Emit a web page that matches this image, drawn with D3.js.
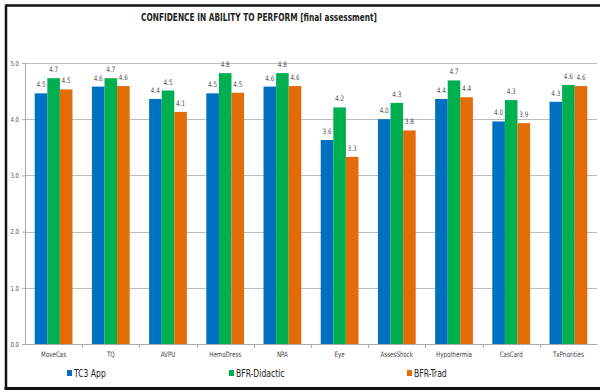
<!DOCTYPE html>
<html>
  <head>
    <meta charset="utf-8" />
    <script src="https://d3js.org/d3.v7.min.js"></script>
    <style>
      body { margin: 0; background: #fff; }
      text { font-family: "DejaVu Sans Condensed", "Liberation Sans", sans-serif; }
    </style>
  </head>
  <body>
    <svg id="chart" width="600" height="392"></svg>
    <script>
      // Datos
      const categories = ["MoveCas", "TQ", "AVPU", "HemoDress", "NPA", "Eye", "AssesShock", "Hypothermia", "CasCard", "TxPriorities"];
      const seriesNames = ["TC3 App", "BFR-Didactic", "BFR-Trad"];
      const tc3App = [4.46, 4.58, 4.36, 4.46, 4.58, 3.63, 4.0, 4.36, 3.96, 4.31];
      const bfrDidactic = [4.73, 4.73, 4.51, 4.82, 4.82, 4.21, 4.29, 4.69, 4.34, 4.61];
      const bfrTrad = [4.53, 4.59, 4.13, 4.47, 4.59, 3.33, 3.8, 4.39, 3.93, 4.59];
      const yTicks = [0, 1, 2, 3, 4, 5];
      const colors = ["#0070c0", "#00b050", "#e36c09"];

      const svg = d3.select("#chart");
      const width = 600;
      const height = 392;
      const margin = { top: 63, right: 3, bottom: 48, left: 25 };

      // Estrecha el texto (la fuente original es más condensada)
      function condense(sel, k) {
        sel.each(function () {
          const w = this.getComputedTextLength();
          d3.select(this).attr("textLength", w * k).attr("lengthAdjust", "spacingAndGlyphs");
        });
      }

      // Marco
      svg.append("line").attr("x1", 6).attr("x2", width).attr("y1", 5.5).attr("y2", 5.5)
        .style("stroke", "#111").style("stroke-width", 2.5);
      svg.append("line").attr("x1", 6).attr("x2", 6).attr("y1", 4.5).attr("y2", 389)
        .style("stroke", "#111").style("stroke-width", 2.5);
      svg.append("line").attr("x1", 4.5).attr("x2", width).attr("y1", 388.5).attr("y2", 388.5)
        .style("stroke", "#111").style("stroke-width", 3);

      // Título
      svg.append("text")
        .attr("x", 259)
        .attr("y", 21)
        .attr("text-anchor", "middle")
        .style("font-size", "11px")
        .style("font-weight", "bold")
        .style("fill", "#222")
        .text("CONFIDENCE IN ABILITY TO PERFORM [final assessment]")
        .call((s) => s.attr("textLength", 236).attr("lengthAdjust", "spacingAndGlyphs"));

      const x0 = d3.scaleBand()
        .domain(categories)
        .range([margin.left, width - margin.right])
        .paddingInner(0.34)
        .paddingOuter(0.17);
      const x1 = d3.scaleBand()
        .domain(seriesNames)
        .range([0, x0.bandwidth()]);
      const y = d3.scaleLinear()
        .domain([0, 5])
        .range([height - margin.bottom, margin.top]);

      // Rejilla
      svg.append("g")
        .selectAll("line")
        .data(yTicks.slice(1))
        .enter()
        .append("line")
        .attr("x1", margin.left)
        .attr("x2", width - margin.right)
        .attr("y1", (d) => Math.round(y(d)) + 0.5)
        .attr("y2", (d) => Math.round(y(d)) + 0.5)
        .style("stroke", "#bdbdbd")
        .style("stroke-width", 1);

      // Eje Y
      const yAxis = svg.append("g")
        .attr("transform", `translate(${margin.left},0)`)
        .call(d3.axisLeft(y).tickValues(yTicks).tickFormat(d3.format(".1f")).tickSize(3).tickPadding(3));
      yAxis.selectAll("line, path").style("stroke", "#aaa");
      yAxis.selectAll("text").style("font-size", "7px").style("fill", "#555").call(condense, 0.85);

      // Barras
      const series = [tc3App, bfrDidactic, bfrTrad];
      const groups = svg.append("g")
        .selectAll("g")
        .data(categories)
        .enter()
        .append("g")
        .attr("transform", (d) => `translate(${x0(d)},0)`);

      groups.selectAll("rect")
        .data((d, i) => seriesNames.map((s, k) => ({ s, k, v: series[k][i] })))
        .enter()
        .append("rect")
        .attr("x", (d) => x1(d.s))
        .attr("y", (d) => y(d.v))
        .attr("width", x1.bandwidth())
        .attr("height", (d) => y(0) - y(d.v))
        .style("fill", (d) => colors[d.k]);

      groups.selectAll(".label")
        .data((d, i) => seriesNames.map((s, k) => ({ s, k, v: series[k][i] })))
        .enter()
        .append("text")
        .attr("class", "label")
        .attr("x", (d) => x1(d.s) + x1.bandwidth() / 2)
        .attr("y", (d) => y(d.v) - 6)
        .attr("text-anchor", "middle")
        .style("font-size", "7.5px")
        .style("fill", "#555")
        .text((d) => d3.format(".1f")(d.v))
        .call(condense, 0.85);

      // Eje X
      const xAxis = svg.append("g")
        .attr("transform", `translate(0,${y(0)})`)
        .call(d3.axisBottom(x0).tickSize(0).tickPadding(8));
      xAxis.select("path").style("stroke", "#aaa");
      xAxis.selectAll("text").style("font-size", "7.5px").style("fill", "#444").call(condense, 0.82);
      // Marcas entre categorías
      xAxis.selectAll(".sep")
        .data(categories.slice(1))
        .enter()
        .append("line")
        .attr("x1", (d) => Math.round(x0(d) - x0.step() * x0.paddingInner() / 2) + 0.5)
        .attr("x2", (d) => Math.round(x0(d) - x0.step() * x0.paddingInner() / 2) + 0.5)
        .attr("y1", 0)
        .attr("y2", 4)
        .style("stroke", "#aaa");

      // Leyenda
      const legendX = [67, 229, 407];
      const legend = svg.append("g")
        .selectAll("g")
        .data(seriesNames)
        .enter()
        .append("g")
        .attr("transform", (d, i) => `translate(${legendX[i]},370)`);
      legend.append("rect")
        .attr("width", 5)
        .attr("height", 6)
        .style("fill", (d, i) => colors[i]);
      legend.append("text")
        .attr("x", 7)
        .attr("y", 7)
        .style("font-size", "10px")
        .style("fill", "#222")
        .text((d) => d)
        .call(condense, 0.85);
    </script>
  </body>
</html>
